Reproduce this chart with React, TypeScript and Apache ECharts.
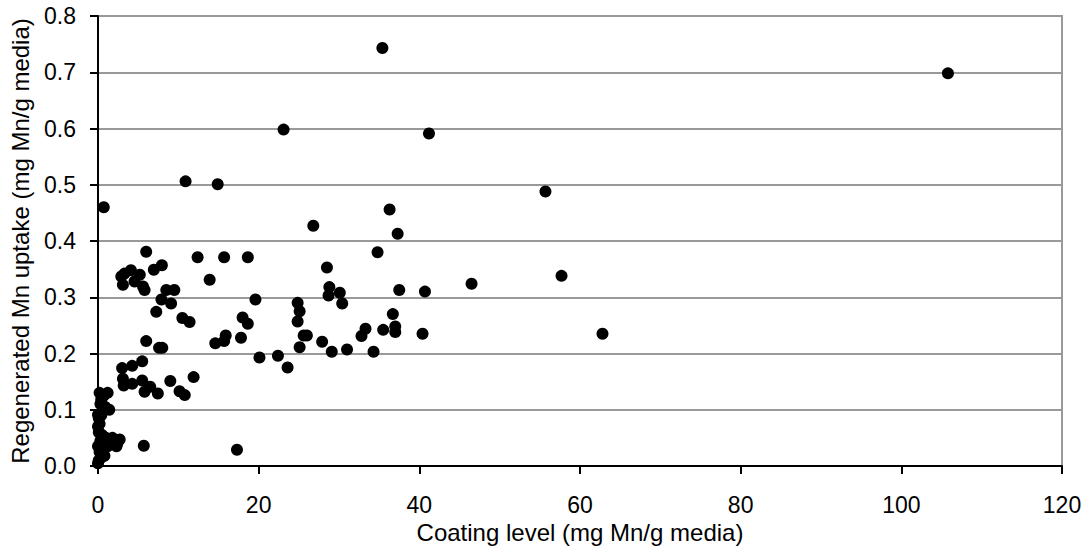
import React, { useEffect, useRef } from "react";
import * as echarts from "echarts";

// Coating level (mg Mn/g media)
const coatingLevel = [
  0.0, 0.1, 0.4, 0.8, 0.2, 0.0, 0.8, 1.2, 2.3, 2.4, 0.3, 1.8, 2.7, 1.0, 0.5, 0.1, 0.0, 0.2, 0.1, 0.0,
  0.4, 0.6, 1.4, 0.9, 0.3, 0.4, 0.2, 1.2, 0.7,
  105.8, 35.4, 23.1, 41.2, 55.7, 57.7, 62.8, 46.5, 40.7, 40.4, 36.3, 37.3, 37.5, 34.8, 36.7, 37.0, 37.0,
  35.5, 33.3, 32.8, 34.3, 31.0, 30.1, 30.4, 28.8, 28.5, 28.7, 29.1, 27.9, 26.8, 24.85, 25.1, 24.85, 25.1,
  25.6, 26.0, 23.6, 22.4, 20.1, 19.6, 18.65, 18.65, 18.0, 17.8, 17.3, 15.7, 15.9, 15.7, 14.6, 14.9, 13.9,
  12.4, 11.9, 11.4, 10.9, 10.5, 10.8, 10.15, 9.5, 9.1, 9.0, 8.5, 7.95, 7.9, 7.6, 8.0, 7.45, 7.25, 6.95,
  6.5, 6.0, 6.0, 5.8, 5.8, 5.7, 5.5, 5.5, 4.55, 4.26, 4.26, 3.2, 3.1, 3.0, 3.1, 0.72,
  2.9, 3.3, 4.1, 5.2, 5.6,
];

// Regenerated Mn uptake (mg Mn/g media)
const mnUptake = [
  0.005, 0.01, 0.015, 0.018, 0.025, 0.035, 0.038, 0.035, 0.035, 0.04, 0.045, 0.05, 0.047, 0.05, 0.055,
  0.06, 0.07, 0.075, 0.085, 0.091, 0.09, 0.1, 0.1, 0.105, 0.11, 0.118, 0.13, 0.13, 0.125,
  0.698, 0.743, 0.598, 0.591, 0.488, 0.338, 0.235, 0.324, 0.31, 0.235, 0.456, 0.413, 0.313, 0.38, 0.27,
  0.248, 0.238, 0.242, 0.244, 0.231, 0.203, 0.207, 0.308, 0.289, 0.318, 0.353, 0.303, 0.203, 0.221,
  0.427, 0.29, 0.275, 0.257, 0.211, 0.232, 0.232, 0.175, 0.196, 0.193, 0.296, 0.371, 0.253, 0.264, 0.228,
  0.029, 0.371, 0.232, 0.222, 0.218, 0.501, 0.331, 0.371, 0.158, 0.256, 0.506, 0.263, 0.126, 0.133,
  0.313, 0.289, 0.151, 0.313, 0.357, 0.296, 0.21, 0.21, 0.129, 0.274, 0.349, 0.141, 0.381, 0.222, 0.313,
  0.132, 0.036, 0.186, 0.152, 0.328, 0.178, 0.146, 0.143, 0.155, 0.174, 0.322, 0.46,
  0.337, 0.342, 0.348, 0.34, 0.319,
];

const xTitle = "Coating level (mg Mn/g media)";
const yTitle = "Regenerated Mn uptake (mg Mn/g media)";

const FONT = "'Liberation Sans', Arial, sans-serif";

export default function App() {
  const ref = useRef<HTMLDivElement>(null);
  useEffect(() => {
    if (!ref.current) return;
    const chart = echarts.init(ref.current, null, { renderer: "svg" });
    const data = coatingLevel.map((x, i) => [x, mnUptake[i]]);
    chart.setOption({
      animation: false,
      backgroundColor: "#ffffff",
      grid: {
        left: 98,
        right: 23,
        top: 16,
        bottom: 84,
        show: true,
        borderColor: "#999999",
        borderWidth: 2,
        backgroundColor: "transparent",
      },
      xAxis: {
        type: "value",
        min: 0,
        max: 120,
        interval: 20,
        name: xTitle,
        nameLocation: "middle",
        nameGap: 49,
        nameTextStyle: { color: "#000", fontFamily: FONT, fontSize: 24 },
        axisLine: { show: true, onZero: false, lineStyle: { color: "#000", width: 2 } },
        axisTick: { show: true, length: 8, lineStyle: { color: "#000", width: 2 } },
        axisLabel: { color: "#000", fontFamily: FONT, fontSize: 23, margin: 27 },
        splitLine: { show: false },
      },
      yAxis: {
        type: "value",
        min: 0,
        max: 0.8,
        interval: 0.1,
        name: yTitle,
        nameLocation: "middle",
        nameGap: 66,
        nameTextStyle: { color: "#000", fontFamily: FONT, fontSize: 24 },
        axisLine: { show: true, onZero: false, lineStyle: { color: "#000", width: 2 } },
        axisTick: { show: true, length: 8, lineStyle: { color: "#000", width: 2 } },
        axisLabel: {
          color: "#000",
          fontFamily: FONT,
          fontSize: 23,
          margin: 22,
          formatter: (v: number) => v.toFixed(1),
        },
        splitLine: { show: true, lineStyle: { color: "#999999", width: 2 } },
      },
      series: [
        {
          type: "scatter",
          data,
          symbol: "circle",
          symbolSize: 12,
          clip: false,
          itemStyle: { color: "#000000", opacity: 1 },
        },
      ],
    });
    return () => chart.dispose();
  }, []);
  return (
    <div
      ref={ref}
      style={{ position: "fixed", left: 0, top: 0, width: 1085, height: 550 }}
    />
  );
}
